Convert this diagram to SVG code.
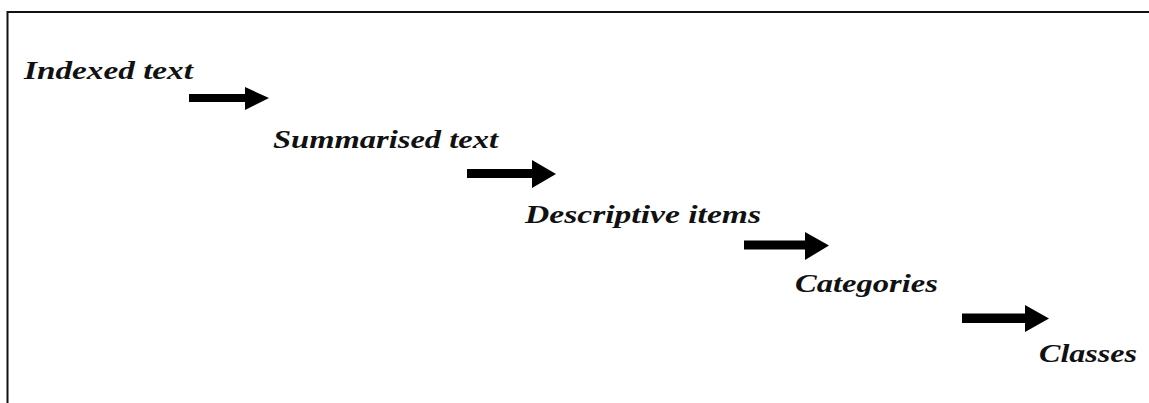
<svg xmlns="http://www.w3.org/2000/svg" width="1149" height="403" viewBox="0 0 1149 403">
  <defs>
    <style>
      .frame { fill: none; stroke: #111; stroke-width: 2; }
      .label { font-family: "Liberation Serif", "DejaVu Serif", serif; font-style: italic; font-weight: bold; font-size: 26px; fill: #111; }
      .arrow { fill: #000; }
    </style>
  </defs>

  <rect width="1149" height="403" fill="#fff"/>

  <!-- open frame: top and left edges -->
  <polyline class="frame" points="1149,12 7.5,12 7.5,403"/>

  <g id="node-indexed-text">
    <text class="label" x="24" y="79" textLength="169" lengthAdjust="spacingAndGlyphs">Indexed text</text>
  </g>
  <g id="node-summarised-text">
    <text class="label" x="273" y="148" textLength="225" lengthAdjust="spacingAndGlyphs">Summarised text</text>
  </g>
  <g id="node-descriptive-items">
    <text class="label" x="525" y="223" textLength="236" lengthAdjust="spacingAndGlyphs">Descriptive items</text>
  </g>
  <g id="node-categories">
    <text class="label" x="795" y="292" textLength="143" lengthAdjust="spacingAndGlyphs">Categories</text>
  </g>
  <g id="node-classes">
    <text class="label" x="1039" y="362" textLength="98" lengthAdjust="spacingAndGlyphs">Classes</text>
  </g>

  <!-- block arrows between consecutive stages -->
  <g id="connectors">
    <path class="arrow" d="M189,94 L245,94 L245,87 L269,98 L245,110 L245,102 L189,102 Z"/>
    <path class="arrow" d="M467,169 L532,169 L532,160 L556,174 L532,188 L532,178 L467,178 Z"/>
    <path class="arrow" d="M744,240.5 L805,240.5 L805,232 L829,245.5 L805,260 L805,249.5 L744,249.5 Z"/>
    <path class="arrow" d="M962,313.5 L1025,313.5 L1025,305 L1049,318.5 L1025,332 L1025,323 L962,323 Z"/>
  </g>
</svg>
